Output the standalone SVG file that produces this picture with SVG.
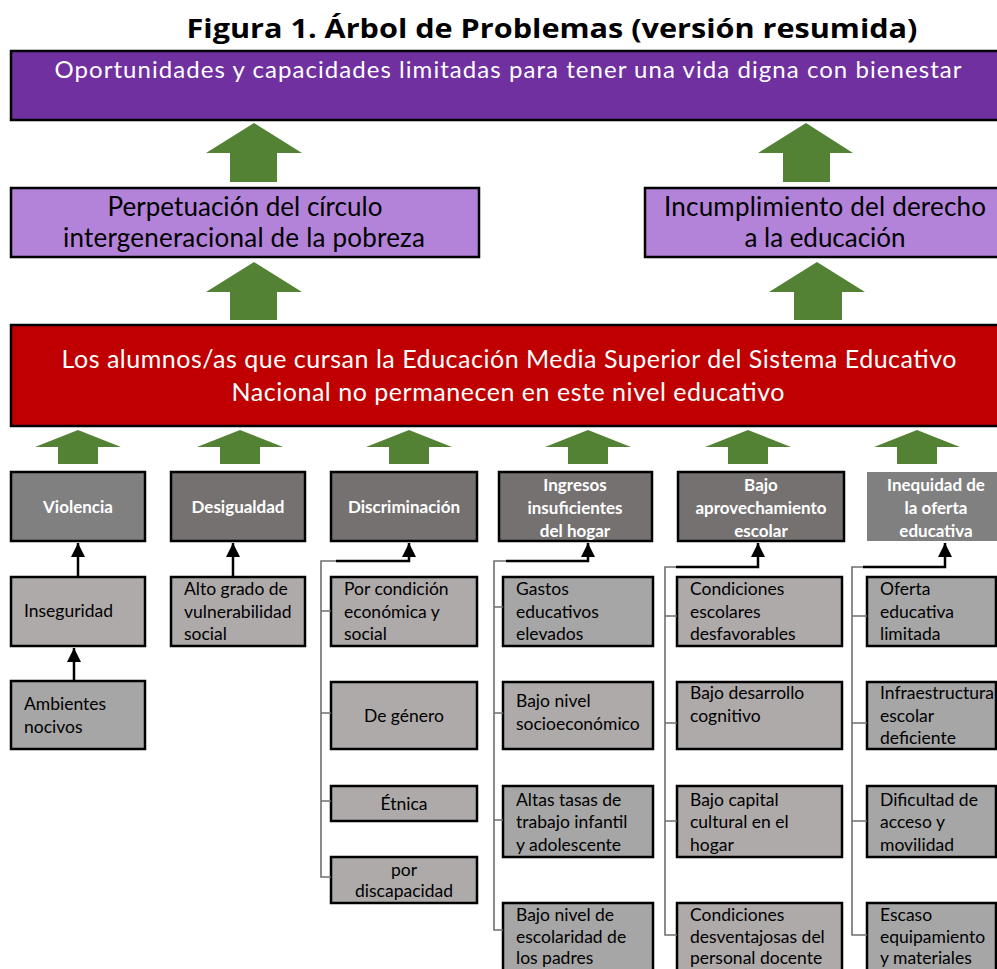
<svg xmlns="http://www.w3.org/2000/svg" width="997" height="969" viewBox="0 0 997 969">
<defs>
<style>
.title{font-family:"Open Sans","Liberation Sans",sans-serif;font-weight:700;font-size:27px;fill:#000}
.big{font-family:Lato,"Liberation Sans",sans-serif;font-size:24px}
.cat{font-family:Lato,"Liberation Sans",sans-serif;font-weight:700;font-size:17px;fill:#fff;text-anchor:middle}
.sub{font-family:Lato,"Liberation Sans",sans-serif;font-size:17.5px;fill:#000}
.ga{fill:#548235}
.catbox{fill:#767171;stroke:#000;stroke-width:2.5}
.s1{fill:#AEAAAA;stroke:#000;stroke-width:2.5}
.s2{fill:#A6A6A6;stroke:#000;stroke-width:2.5}
.br{fill:none;stroke:#6f6f6f;stroke-width:1.6}
.ar{fill:none;stroke:#000;stroke-width:2.5}
</style>
<marker id="ah" markerWidth="14" markerHeight="14" viewBox="0 0 14 14" refX="7" refY="0" orient="0" markerUnits="userSpaceOnUse">
<path d="M0,14 L7,0 L14,14 Z" fill="#000"/>
</marker>
</defs>

<text class="title" x="552" y="38" text-anchor="middle" textLength="731" lengthAdjust="spacingAndGlyphs">Figura 1. Árbol de Problemas (versión resumida)</text>

<g id="fin">
<rect x="11" y="51" width="990" height="69" fill="#7030A0" stroke="#000" stroke-width="2.5"/>
<text class="big" x="508" y="78" fill="#fff" text-anchor="middle" textLength="907">Oportunidades y capacidades limitadas para tener una vida digna con bienestar</text>
</g>

<g id="efecto1">
<rect x="11" y="188" width="468" height="69" fill="#B383D9" stroke="#000" stroke-width="2.5"/>
<text class="big" x="245" y="216" fill="#000" text-anchor="middle" textLength="275" style="font-size:26px">Perpetuación del círculo</text>
<text class="big" x="244" y="247" fill="#000" text-anchor="middle" textLength="362" style="font-size:26px">intergeneracional de la pobreza</text>
</g>

<g id="efecto2">
<rect x="645" y="188" width="356" height="69" fill="#B383D9" stroke="#000" stroke-width="2.5"/>
<text class="big" x="825" y="216" fill="#000" text-anchor="middle" textLength="322" style="font-size:26px">Incumplimiento del derecho</text>
<text class="big" x="825" y="247" fill="#000" text-anchor="middle" textLength="161" style="font-size:26px">a la educación</text>
</g>

<g id="problema">
<rect x="11" y="325" width="990" height="101" fill="#C00000" stroke="#000" stroke-width="2.5"/>
<text class="big" x="509" y="368" fill="#fff" text-anchor="middle" textLength="895" style="font-size:25px">Los alumnos/as que cursan la Educación Media Superior del Sistema Educativo</text>
<text class="big" x="508" y="401" fill="#fff" text-anchor="middle" textLength="553" style="font-size:25px">Nacional no permanecen en este nivel educativo</text>
</g>

<g id="flechas-verdes">
<polygon class="ga" points="254,123 302,153 277,153 277,182 230,182 230,153 206,153"/>
<polygon class="ga" points="806,123 853,153 830,153 830,182 783,182 783,153 758,153"/>
<polygon class="ga" points="254,262 302,292 277,292 277,320 230,320 230,292 206,292"/>
<polygon class="ga" points="817,262 865,292 842,292 842,320 794,320 794,292 769,292"/>
<polygon class="ga" points="78,430 121,447 98,447 98,464 58,464 58,447 35,447"/>
<polygon class="ga" points="240,430 283,447 260,447 260,464 220,464 220,447 197,447"/>
<polygon class="ga" points="409,430 452,447 429,447 429,464 389,464 389,447 366,447"/>
<polygon class="ga" points="588,430 631,447 608,447 608,464 568,464 568,447 545,447"/>
<polygon class="ga" points="748,430 791,447 768,447 768,464 728,464 728,447 705,447"/>
<polygon class="ga" points="917,430 960,447 937,447 937,464 897,464 897,447 874,447"/>
</g>

<g id="violencia">
<rect x="11" y="472" width="134" height="69" fill="#808080" stroke="#000" stroke-width="2.5"/>
<text class="cat" x="78" y="513">Violencia</text>
</g>
<g id="desigualdad">
<rect class="catbox" x="171" y="472" width="134" height="69"/>
<text class="cat" x="238" y="513">Desigualdad</text>
</g>
<g id="discriminacion">
<rect class="catbox" x="331" y="472" width="146" height="69"/>
<text class="cat" x="404" y="513">Discriminación</text>
</g>
<g id="ingresos">
<rect class="catbox" x="499" y="472" width="153" height="69"/>
<text class="cat" x="575" y="491">Ingresos</text>
<text class="cat" x="575" y="514">insuficientes</text>
<text class="cat" x="575" y="537">del hogar</text>
</g>
<g id="aprovechamiento">
<rect class="catbox" x="678" y="472" width="166" height="69"/>
<text class="cat" x="761" y="491">Bajo</text>
<text class="cat" x="761" y="514">aprovechamiento</text>
<text class="cat" x="761" y="537">escolar</text>
</g>
<g id="inequidad">
<rect x="867" y="472" width="130" height="69" fill="#808080"/>
<text class="cat" x="936" y="491">Inequidad de</text>
<text class="cat" x="936" y="514">la oferta</text>
<text class="cat" x="936" y="537">educativa</text>
</g>

<g id="inseguridad">
<rect class="s1" x="11" y="577" width="134" height="69"/>
<text class="sub" x="24" y="617">Inseguridad</text>
</g>
<g id="ambientes">
<rect class="s2" x="11" y="681" width="134" height="68"/>
<text class="sub" x="24" y="710">Ambientes</text>
<text class="sub" x="24" y="733">nocivos</text>
</g>
<g id="vulnerabilidad">
<rect class="s1" x="171" y="577" width="134" height="69"/>
<text class="sub" x="184" y="595">Alto grado de</text>
<text class="sub" x="184" y="618">vulnerabilidad</text>
<text class="sub" x="184" y="640">social</text>
</g>

<g id="disc-economica">
<rect class="s1" x="331" y="577" width="146" height="69"/>
<text class="sub" x="344" y="595">Por condición</text>
<text class="sub" x="344" y="618">económica y</text>
<text class="sub" x="344" y="640">social</text>
</g>
<g id="disc-genero">
<rect class="s1" x="331" y="682" width="146" height="67"/>
<text class="sub" x="404" y="722" text-anchor="middle">De género</text>
</g>
<g id="disc-etnica">
<rect class="s1" x="331" y="786" width="146" height="35"/>
<text class="sub" x="404" y="810" text-anchor="middle">Étnica</text>
</g>
<g id="disc-discapacidad">
<rect class="s1" x="331" y="857" width="146" height="46"/>
<text class="sub" x="404" y="876" text-anchor="middle">por</text>
<text class="sub" x="404" y="897" text-anchor="middle">discapacidad</text>
</g>

<g id="gastos">
<rect class="s2" x="503" y="577" width="150" height="69"/>
<text class="sub" x="516" y="595">Gastos</text>
<text class="sub" x="516" y="618">educativos</text>
<text class="sub" x="516" y="640">elevados</text>
</g>
<g id="nivel-socio">
<rect class="s1" x="503" y="682" width="150" height="67"/>
<text class="sub" x="516" y="707">Bajo nivel</text>
<text class="sub" x="516" y="730">socioeconómico</text>
</g>
<g id="trabajo">
<rect class="s2" x="503" y="786" width="150" height="71"/>
<text class="sub" x="516" y="806">Altas tasas de</text>
<text class="sub" x="516" y="828">trabajo infantil</text>
<text class="sub" x="516" y="851">y adolescente</text>
</g>
<g id="escolaridad">
<rect class="s2" x="503" y="903" width="150" height="80"/>
<text class="sub" x="516" y="921">Bajo nivel de</text>
<text class="sub" x="516" y="943">escolaridad de</text>
<text class="sub" x="516" y="964">los padres</text>
</g>

<g id="cond-escolares">
<rect class="s1" x="677" y="577" width="165" height="69"/>
<text class="sub" x="690" y="595">Condiciones</text>
<text class="sub" x="690" y="618">escolares</text>
<text class="sub" x="690" y="640">desfavorables</text>
</g>
<g id="cognitivo">
<rect class="s1" x="677" y="682" width="165" height="67"/>
<text class="sub" x="690" y="699">Bajo desarrollo</text>
<text class="sub" x="690" y="722">cognitivo</text>
</g>
<g id="capital">
<rect class="s1" x="677" y="786" width="165" height="71"/>
<text class="sub" x="690" y="806">Bajo capital</text>
<text class="sub" x="690" y="828">cultural en el</text>
<text class="sub" x="690" y="851">hogar</text>
</g>
<g id="docente">
<rect class="s1" x="677" y="903" width="165" height="80"/>
<text class="sub" x="690" y="921">Condiciones</text>
<text class="sub" x="690" y="943">desventajosas del</text>
<text class="sub" x="690" y="964">personal docente</text>
</g>

<g id="oferta">
<rect class="s2" x="867" y="577" width="129" height="69"/>
<text class="sub" x="880" y="595">Oferta</text>
<text class="sub" x="880" y="618">educativa</text>
<text class="sub" x="880" y="640">limitada</text>
</g>
<g id="infraestructura">
<rect class="s2" x="867" y="682" width="129" height="67"/>
<text class="sub" x="880" y="699">Infraestructura</text>
<text class="sub" x="880" y="722">escolar</text>
<text class="sub" x="880" y="744">deficiente</text>
</g>
<g id="acceso">
<rect class="s2" x="867" y="786" width="129" height="71"/>
<text class="sub" x="880" y="806">Dificultad de</text>
<text class="sub" x="880" y="828">acceso y</text>
<text class="sub" x="880" y="851">movilidad</text>
</g>
<g id="equipamiento">
<rect class="s2" x="867" y="903" width="129" height="80"/>
<text class="sub" x="880" y="921">Escaso</text>
<text class="sub" x="880" y="943">equipamiento</text>
<text class="sub" x="880" y="964">y materiales</text>
</g>

<g id="conectores">
<path class="ar" d="M78,577 V543" marker-end="url(#ah)"/>
<path class="ar" d="M74,681 V648" marker-end="url(#ah)"/>
<path class="ar" d="M233,577 V543" marker-end="url(#ah)"/>

<path class="br" d="M331,611 H321 M331,713 H321 M331,801 H321 M331,877 H321 V561 H337"/>
<path class="ar" d="M336,561 H409 V543" marker-end="url(#ah)"/>

<path class="br" d="M503,607 H494 M503,713 H494 M503,820 H494 M503,930 H494 V561 H507"/>
<path class="ar" d="M506,561 H588 V543" marker-end="url(#ah)"/>

<path class="br" d="M677,616 H665 M677,723 H665 M677,821 H665 M677,935 H665 V567 H677"/>
<path class="ar" d="M676,567 H758 V543" marker-end="url(#ah)"/>

<path class="br" d="M867,616 H852 M867,723 H852 M867,821 H852 M867,935 H852 V567 H864"/>
<path class="ar" d="M863,567 H945 V543" marker-end="url(#ah)"/>
</g>
</svg>
